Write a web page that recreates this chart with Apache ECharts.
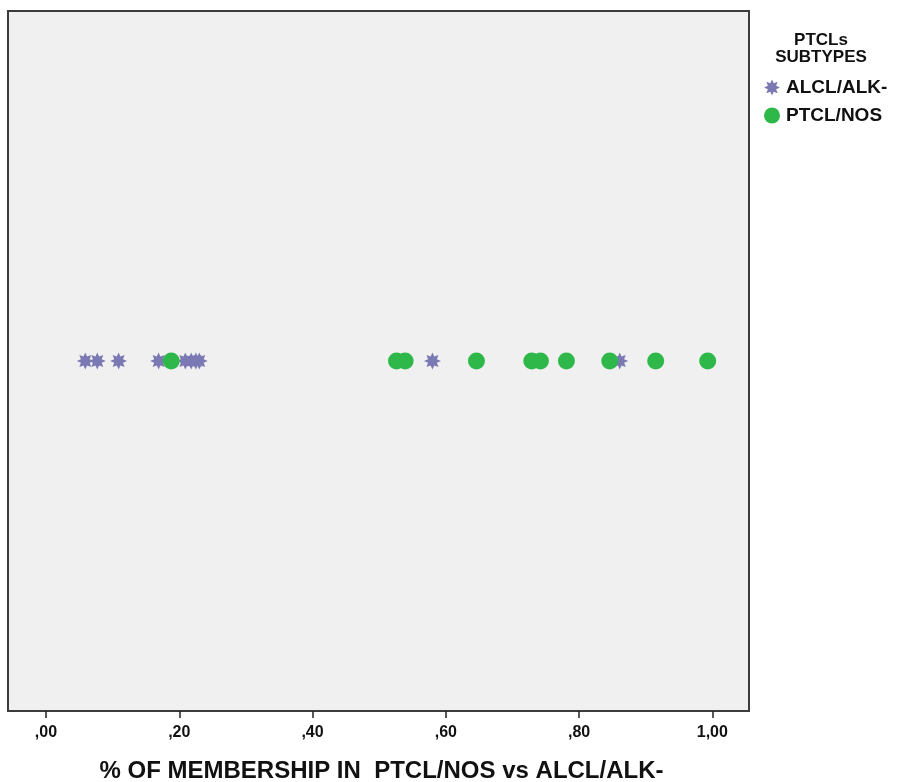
<!DOCTYPE html>
<html>
<head>
<meta charset="utf-8">
<script src="https://cdn.jsdelivr.net/npm/echarts@6/dist/echarts.min.js"></script>
<style>
  html, body { margin: 0; padding: 0; background: #ffffff; }
  #chart { width: 901px; height: 782px; }
</style>
</head>
<body>
<div id="chart"></div>
<script>
// Membership scores for each subtype (all cases sit on one row)
const alclValues = [0.059, 0.077, 0.109, 0.169, 0.209, 0.218, 0.225, 0.230, 0.580, 0.861];
const ptclValues = [0.188, 0.526, 0.539, 0.646, 0.729, 0.742, 0.781, 0.846, 0.915, 0.993];
const seriesNames = ['ALCL/ALK-', 'PTCL/NOS'];
const tickValues = [0, 0.2, 0.4, 0.6, 0.8, 1.0];
const tickLabels = [',00', ',20', ',40', ',60', ',80', '1,00'];
const rowLevel = 0;

// eight-pointed asterisk marker
function starPath(points, outer, inner) {
  let d = '';
  for (let i = 0; i < points * 2; i++) {
    const r = i % 2 === 0 ? outer : inner;
    const a = Math.PI * i / points - Math.PI / 2;
    const x = (50 + r * Math.cos(a)).toFixed(2);
    const y = (50 + r * Math.sin(a)).toFixed(2);
    d += (i === 0 ? 'M' : 'L') + x + ' ' + y;
  }
  return 'path://' + d + 'Z';
}
const starSymbol = starPath(8, 50, 28);

const chart = echarts.init(document.getElementById('chart'), null, { renderer: 'canvas' });
const font = '"Liberation Sans", Arial, sans-serif';

chart.setOption({
  animation: false,
  backgroundColor: '#ffffff',
  title: {
    text: 'PTCLs\nSUBTYPES',
    left: 821,
    top: 32,
    padding: 0,
    textAlign: 'center',
    textStyle: { fontFamily: font, fontWeight: 'bold', fontSize: 17, lineHeight: 17, color: '#111' }
  },
  legend: {
    orient: 'vertical',
    left: 764,
    top: 78,
    padding: 0,
    itemGap: 9,
    itemWidth: 18,
    itemHeight: 16,
    data: [
      { name: seriesNames[0], icon: starSymbol },
      { name: seriesNames[1], icon: 'circle' }
    ],
    textStyle: { fontFamily: font, fontWeight: 'bold', fontSize: 19, color: '#111' }
  },
  grid: {
    left: 8, top: 11, right: 152, bottom: 71,
    outerBoundsMode: 'none',
    containLabel: false,
    show: true,
    backgroundColor: '#f0f0f0',
    borderColor: '#3c3c3c',
    borderWidth: 2
  },
  xAxis: {
    type: 'value',
    min: -0.057,
    max: 1.055,
    name: '% OF MEMBERSHIP IN  PTCL/NOS vs ALCL/ALK-',
    nameLocation: 'middle',
    nameGap: 48,
    nameTextStyle: { fontFamily: font, fontWeight: 'bold', fontSize: 24, color: '#111', padding: [0, 0, 0, 6] },
    axisLine: { show: false, onZero: false },
    splitLine: { show: false },
    axisTick: { show: true, inside: false, length: 7, customValues: tickValues, lineStyle: { color: '#222', width: 1.5 } },
    axisLabel: {
      customValues: tickValues,
      margin: 14,
      fontFamily: font,
      fontWeight: 'bold',
      fontSize: 16,
      color: '#111',
      formatter: function (v) {
        const i = tickValues.findIndex(t => Math.abs(t - v) < 1e-9);
        return i >= 0 ? tickLabels[i] : '';
      }
    }
  },
  yAxis: {
    type: 'value',
    min: -1,
    max: 1,
    show: false
  },
  series: [
    {
      name: seriesNames[0],
      type: 'scatter',
      symbol: starSymbol,
      symbolSize: 17,
      itemStyle: { color: '#7b79b3', opacity: 1 },
      data: alclValues.map(v => [v, rowLevel])
    },
    {
      name: seriesNames[1],
      type: 'scatter',
      symbol: 'circle',
      symbolSize: 17,
      itemStyle: { color: '#2fb84a', opacity: 1 },
      data: ptclValues.map(v => [v, rowLevel])
    }
  ]
});
</script>
</body>
</html>
